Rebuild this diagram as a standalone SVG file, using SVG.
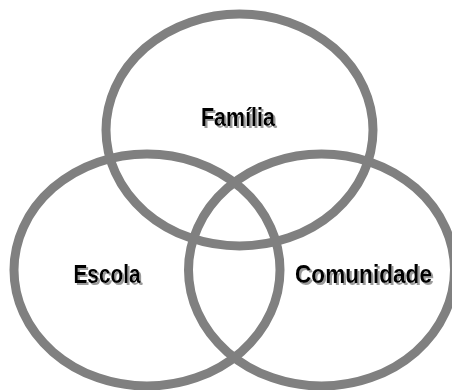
<svg xmlns="http://www.w3.org/2000/svg" width="452" height="390" viewBox="0 0 452 390">
<defs>
<filter id="sh" x="-10%" y="-20%" width="130%" height="150%">
<feDropShadow dx="2" dy="2" stdDeviation="0.6" flood-color="#9a9a9a" flood-opacity="1"/>
</filter>
</defs>
<style>
.c{fill:none;stroke:#808080;stroke-width:9}
.t{font-family:"Liberation Sans",Arial,sans-serif;font-weight:bold;font-size:26px;text-anchor:middle;fill:#000;filter:url(#sh)}
</style>
<rect width="452" height="390" fill="#fff"/>
<g id="familia">
<ellipse class="c" cx="239.5" cy="130" rx="133.5" ry="116"/>
<text class="t" x="238" y="126" textLength="74" lengthAdjust="spacingAndGlyphs">Família</text>
</g>
<g id="escola">
<ellipse class="c" cx="147" cy="270" rx="133" ry="116"/>
<text class="t" x="107" y="283" textLength="67" lengthAdjust="spacingAndGlyphs">Escola</text>
</g>
<g id="comunidade">
<ellipse class="c" cx="321.5" cy="270" rx="133" ry="116"/>
<text class="t" x="363.5" y="283" textLength="137" lengthAdjust="spacingAndGlyphs">Comunidade</text>
</g>
<g id="connectors"/>
</svg>
